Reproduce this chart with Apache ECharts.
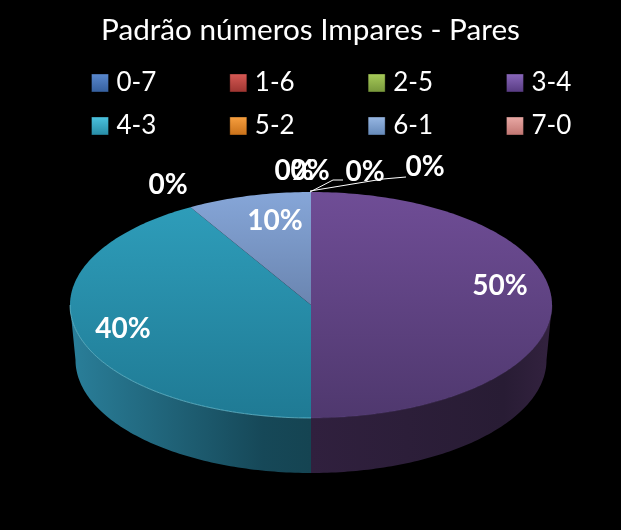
<!DOCTYPE html>
<html><head><meta charset="utf-8">
<style>html,body{margin:0;padding:0;background:#000}#c{width:621px;height:530px}</style>
<script src="https://cdn.jsdelivr.net/npm/echarts@6/dist/echarts.min.js"></script>
</head><body><div id="c"></div>
<script>
const titleText = 'Padrão números Impares - Pares';
const categories = ['0-7','1-6','2-5','3-4','4-3','5-2','6-1','7-0'];
const shares = [0,0,0,50,40,0,10,0];

// styling, separate from the data
const swatch = {
  '0-7':['#5b8ad0','#345e9c'],'1-6':['#d85a55','#9c3430'],'2-5':['#a8cc5a','#76963a'],'3-4':['#8a68bc','#563a80'],
  '4-3':['#4cc4e0','#268aa4'],'5-2':['#f8a040','#c87018'],'6-1':['#98b8e4','#6488b8'],'7-0':['#eaaaa6','#c07470']
};
const faces = {
  '3-4':{top:['#6f4d96','#4f386e'],side:['#30203e','#281c34','#33223f'],rim:'rgba(120,90,160,0.2)'},
  '4-3':{top:['#2f9fbc','#1f7a94'],side:['#2a7f9a','#164858','#154452'],rim:'rgba(125,215,235,0.6)'},
  '6-1':{top:['#86a6d8','#4e6488'],side:['#000','#000','#000'],rim:null}
};
const labelSpot = {'0-7':[310,171],'1-6':[365,172],'2-5':[425,167],'3-4':[500,286],'4-3':[123,329],'5-2':[168,185],'6-1':[275,221],'7-0':[294,171]};
const leaders = {'1-6':[[310,192],[333,180],[343,180]],'2-5':[[310,191],[383,179],[406,177]]};
const P = {cx:311,cy:305,rx:241,ry:113,depth:55,rxB:235.5};

const total = shares.reduce((a,b)=>a+b,0);
function warp(deg){ const r=deg*Math.PI/180; return deg - 6.3*Math.sin(2*r); } // perspective foreshortening
function pt(deg,rx,cy){ const r=deg*Math.PI/180; return [P.cx+rx*Math.sin(r), cy-P.ry*Math.cos(r)]; }
function arc(a0,a1,rx,cy){ const out=[],n=Math.max(2,Math.ceil(Math.abs(a1-a0))); for(let i=0;i<=n;i++) out.push(pt(a0+(a1-a0)*i/n,rx,cy)); return out; }

function render(idx){
  return function(params,api){
    const name=categories[idx], v=api.value(0);
    let s=0; for(let i=0;i<idx;i++) s+=shares[i];
    const a0=s/total*360, a1=(s+v)/total*360, children=[];
    if(v>0){
      const f=faces[name], p0=warp(a0), p1=warp(a1);
      const c0=Math.max(p0,90), c1=Math.min(p1,270);
      if(c1>c0){
        children.push({type:'polygon',shape:{points:arc(c0,c1,P.rx,P.cy).concat(arc(c1,c0,P.rxB,P.cy+P.depth))},
          style:{fill:{type:'linear',x:c1>180?70:311,y:0,x2:c1>180?311:552,y2:0,global:true,
            colorStops:[{offset:0,color:f.side[0]},{offset:.8,color:f.side[1]},{offset:1,color:f.side[2]}]}}});
      }
      children.push({type:'polygon',shape:{points:[[P.cx,P.cy]].concat(arc(p0,p1,P.rx,P.cy))},
        style:{fill:{type:'linear',x:0,y:P.cy-P.ry,x2:0,y2:P.cy+P.ry,global:true,
          colorStops:[{offset:0,color:f.top[0]},{offset:1,color:f.top[1]}]}}});
      if(c1>c0&&f.rim) children.push({type:'polyline',shape:{points:arc(c0,c1,P.rx,P.cy)},style:{fill:null,stroke:f.rim,lineWidth:1}});
    }
    if(leaders[name]) children.push({type:'polyline',shape:{points:leaders[name]},style:{fill:null,stroke:'#fff',lineWidth:1}});
    const spot=labelSpot[name];
    children.push({type:'text',style:{x:spot[0],y:spot[1],text:Math.round(v/total*100)+'%',fill:'#fff',
      font:'bold 28px Lato, sans-serif',align:'center',verticalAlign:'middle'}});
    return {type:'group',children};
  };
}

function legendRow(names,top){
  return {show:true,left:91,top,padding:0,orient:'horizontal',itemWidth:17,itemHeight:18,itemGap:73,icon:'rect',selectedMode:false,
    textStyle:{color:'#fff',fontFamily:'Lato, sans-serif',fontSize:26,padding:[0,0,0,3]},
    data:names.map(n=>({name:n,icon:'rect',itemStyle:{borderColor:'rgba(0,0,0,.35)',borderWidth:1,
      color:{type:'linear',x:0,y:0,x2:0,y2:1,colorStops:[{offset:0,color:swatch[n][0]},{offset:1,color:swatch[n][1]}]}}}))};
}

const chart=echarts.init(document.getElementById('c'),null,{renderer:'canvas'});
chart.setOption({
  backgroundColor:'#000',animation:false,
  title:{text:titleText,left:'center',top:10,textStyle:{color:'#fff',fontFamily:'Lato, sans-serif',fontWeight:'normal',fontSize:29.7}},
  legend:[legendRow(categories.slice(0,4),70),legendRow(categories.slice(4),113)],
  series:categories.map((n,i)=>({type:'custom',name:n,coordinateSystem:'none',silent:true,z:shares[i]>0?2:3,
    data:[[shares[i]]],renderItem:render(i)}))
});
</script></body></html>
